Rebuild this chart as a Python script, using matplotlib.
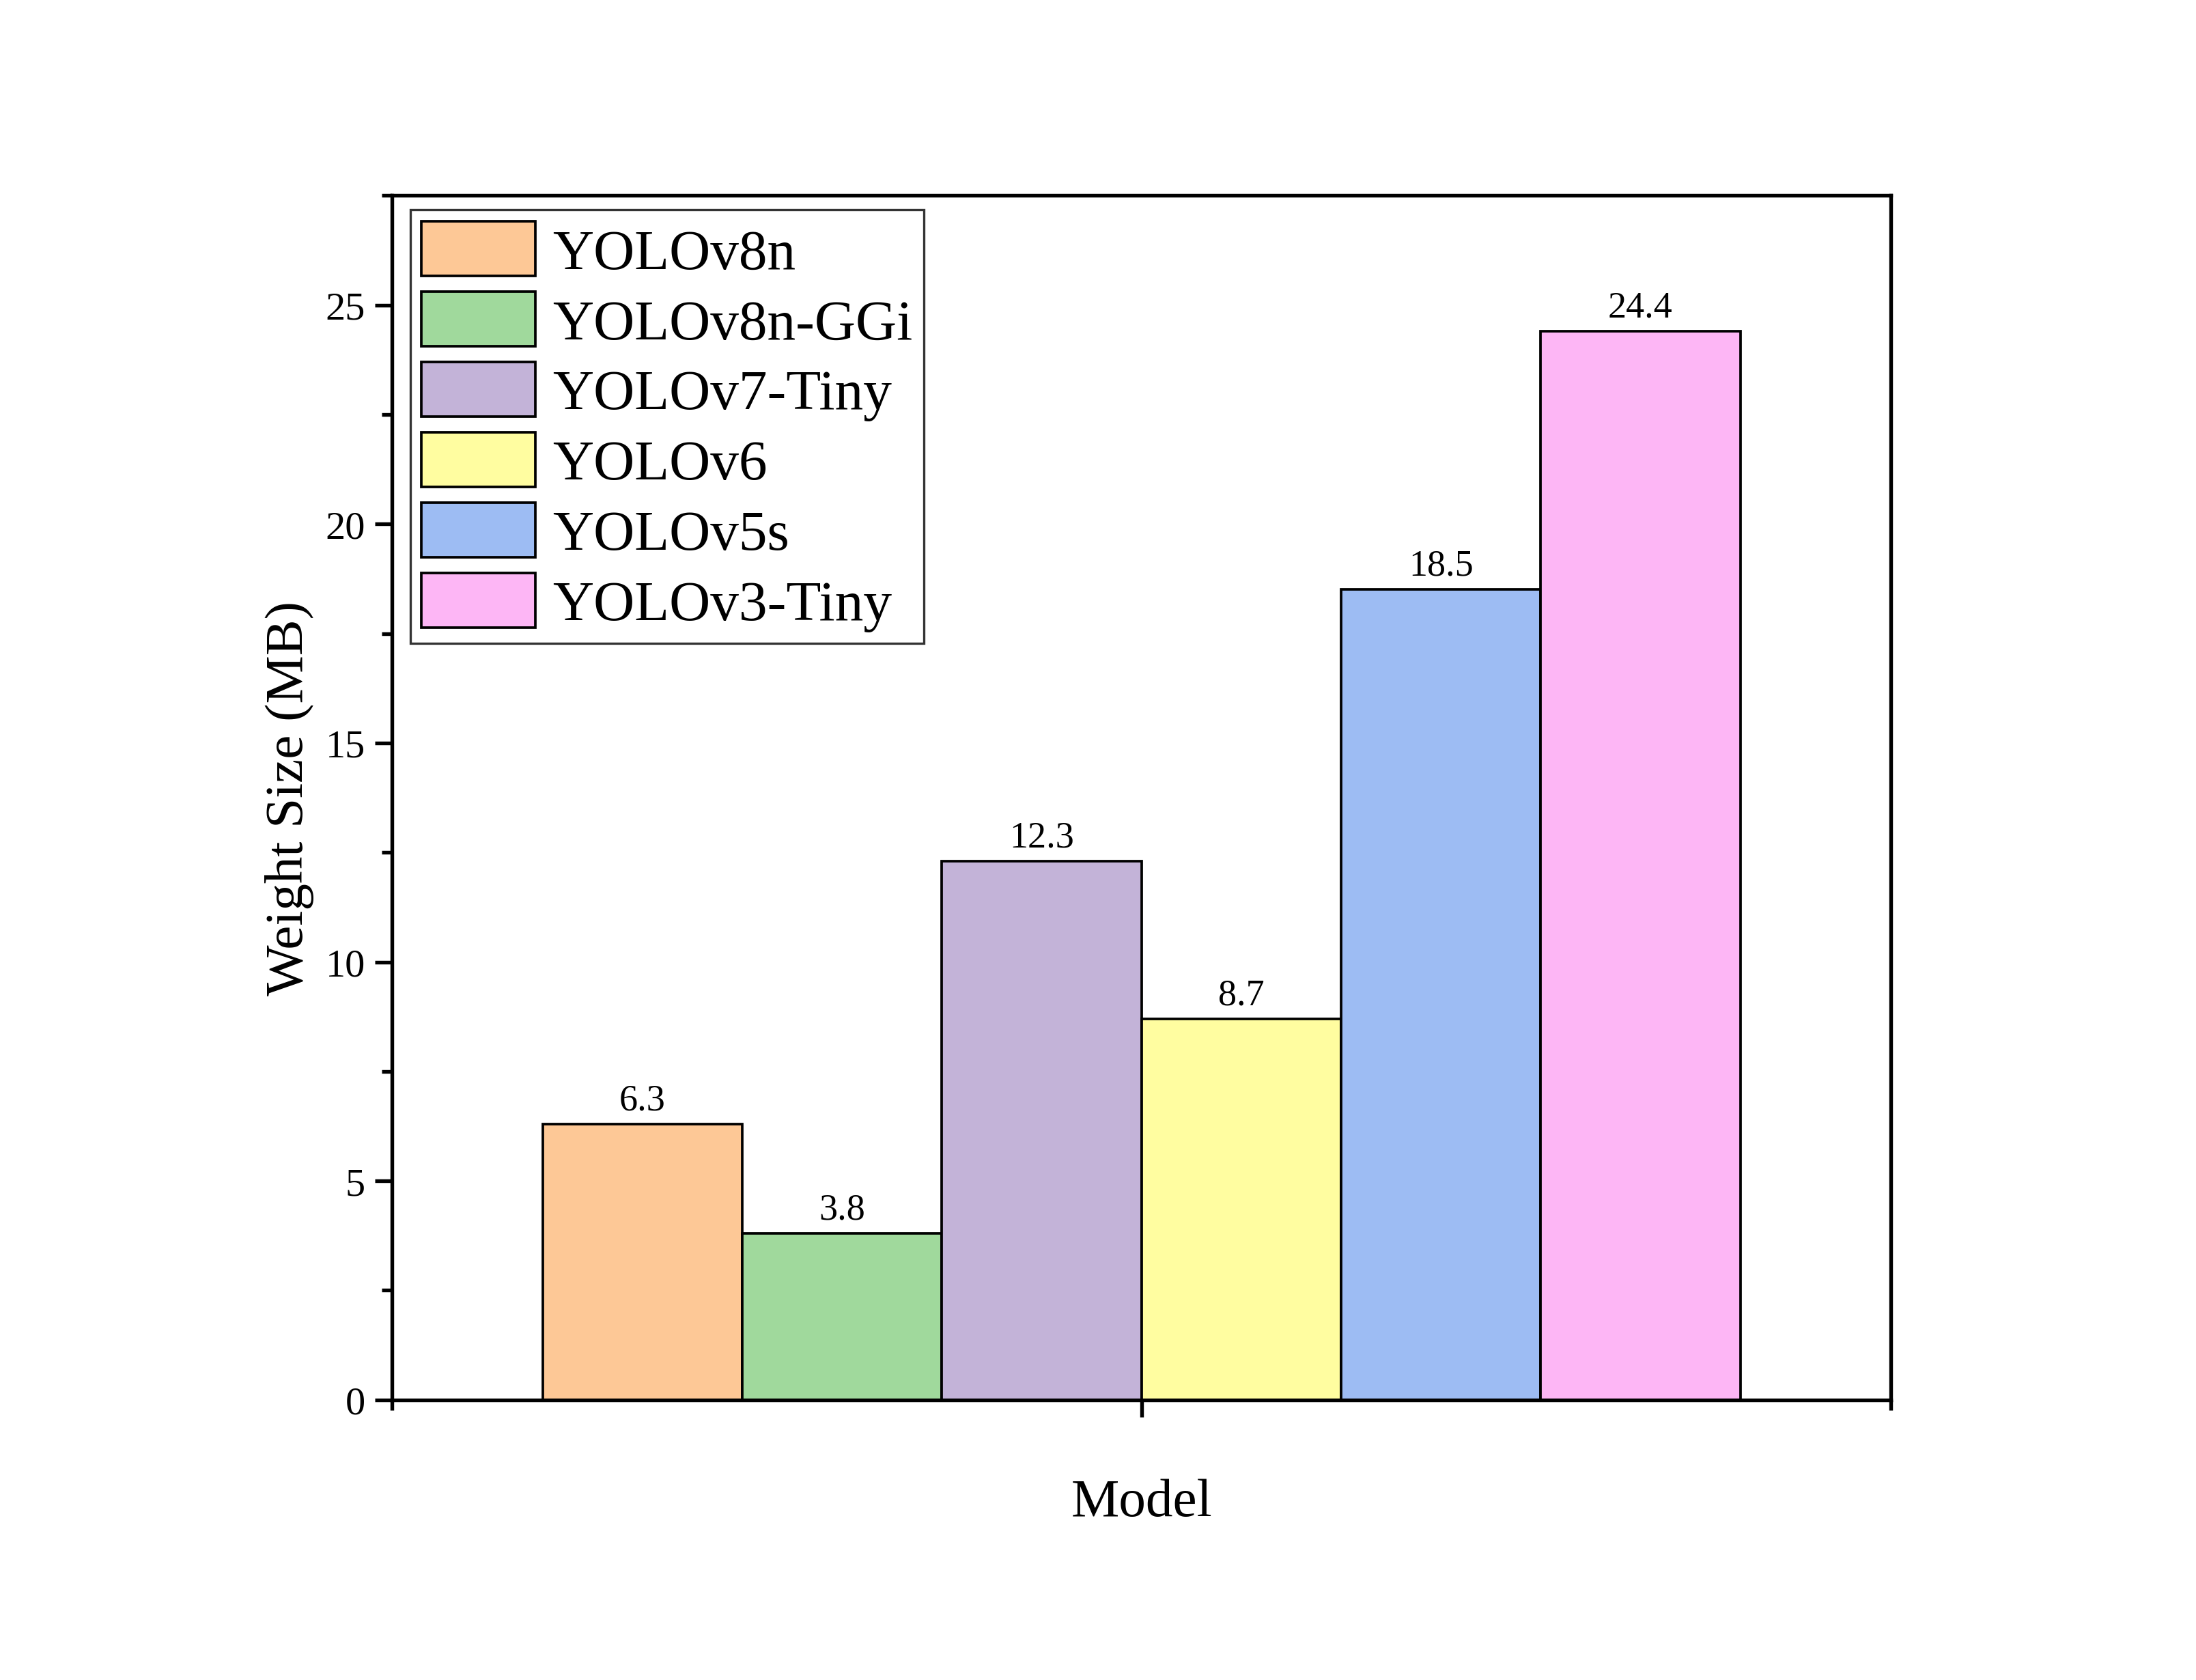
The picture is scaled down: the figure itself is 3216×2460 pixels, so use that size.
import matplotlib.pyplot as plt
from matplotlib import rcParams
from matplotlib.ticker import MultipleLocator, FixedLocator

rcParams['font.family'] = 'serif'
rcParams['font.serif'] = ['Liberation Serif', 'DejaVu Serif']

models = ['YOLOv8n', 'YOLOv8n-GGi', 'YOLOv7-Tiny', 'YOLOv6', 'YOLOv5s', 'YOLOv3-Tiny']
sizes = [6.3, 3.8, 12.3, 8.7, 18.5, 24.4]
colors = ['#FDC896', '#A0D99C', '#C3B3D8', '#FFFDA0', '#9DBCF3', '#FDB6F5']

fig = plt.figure(figsize=(10.72, 8.203), dpi=300)
ax = fig.add_axes([0.1786, 0.1667, 0.6824, 0.7166])

for i, (m, s, c) in enumerate(zip(models, sizes, colors)):
    x = i - 2.5
    ax.bar(x, s, width=1.0, color=c, edgecolor='black', linewidth=0.9, label=m)
    ax.text(x, s + 0.15, f'{s}', ha='center', va='bottom', fontsize=13)

ax.set_xlim(-3.754, 3.754)
ax.set_ylim(0, 27.5)
ax.set_xticks([0])
ax.set_xticklabels([''])
ax.xaxis.set_minor_locator(FixedLocator([-3.754, 3.754]))
ax.yaxis.set_major_locator(MultipleLocator(5))
ax.yaxis.set_minor_locator(MultipleLocator(2.5))
ax.tick_params(which='major', direction='out', length=6, width=1.3, labelsize=14)
ax.tick_params(which='minor', direction='out', length=3.5, width=1.3)
for sp in ax.spines.values():
    sp.set_linewidth(1.3)

ax.set_xlabel('Model', fontsize=19, labelpad=18)
ax.set_ylabel('Weight Size (MB)', fontsize=19)

leg = ax.legend(loc='upper left', fontsize=20, frameon=True, fancybox=False,
                edgecolor='black', handlelength=2.0, handleheight=1.1,
                borderpad=0.2, labelspacing=0.2, handletextpad=0.3,
                bbox_to_anchor=(0.012, 0.988), borderaxespad=0)
leg.get_frame().set_linewidth(0.8)

fig.savefig('out.png', dpi=300)
